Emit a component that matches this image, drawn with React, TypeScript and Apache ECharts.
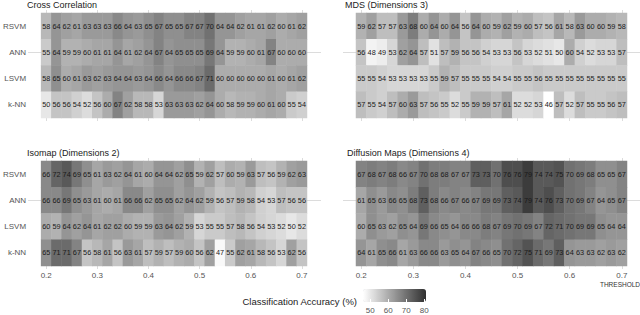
import React, { useEffect, useRef } from "react";
import * as echarts from "echarts";

const thresholds = [
  "0.20", "0.22", "0.24", "0.26", "0.28", "0.30", "0.32", "0.34", "0.36", "0.38",
  "0.40", "0.42", "0.44", "0.46", "0.48", "0.50", "0.52", "0.54", "0.56", "0.58",
  "0.60", "0.62", "0.64", "0.66", "0.68", "0.70",
];
const methods = ["RSVM", "ANN", "LSVM", "k-NN"];
const panelTitles = ["Cross Correlation", "MDS (Dimensions 3)", "Isomap (Dimensions 2)", "Diffusion Maps (Dimensions 4)"];
const legendTicks = [50, 60, 70, 80];

const ccRSVM = [58, 64, 62, 61, 63, 63, 63, 66, 64, 63, 65, 67, 65, 65, 67, 67, 70, 64, 64, 62, 61, 61, 62, 60, 61, 62];
const ccANN = [55, 64, 59, 59, 60, 61, 61, 64, 61, 62, 64, 67, 64, 65, 65, 65, 69, 64, 59, 59, 60, 61, 67, 60, 60, 60];
const ccLSVM = [58, 65, 60, 61, 63, 62, 63, 64, 64, 63, 64, 66, 64, 66, 66, 67, 71, 60, 60, 60, 60, 60, 61, 60, 61, 62];
const ccKNN = [50, 56, 56, 54, 52, 56, 60, 67, 62, 58, 58, 53, 63, 63, 63, 62, 64, 60, 58, 59, 59, 60, 61, 60, 55, 54];

const mdsRSVM = [59, 62, 57, 57, 63, 68, 60, 64, 60, 64, 56, 64, 60, 59, 62, 59, 60, 57, 56, 61, 58, 63, 60, 60, 59, 58];
const mdsANN = [56, 48, 49, 53, 62, 64, 57, 51, 57, 59, 56, 56, 54, 53, 53, 56, 53, 52, 51, 50, 60, 54, 52, 53, 53, 57];
const mdsLSVM = [55, 55, 54, 53, 53, 53, 53, 55, 59, 57, 55, 55, 55, 54, 54, 55, 55, 56, 55, 55, 55, 55, 55, 55, 55, 55];
const mdsKNN = [57, 55, 54, 57, 60, 63, 57, 56, 55, 52, 55, 59, 59, 57, 61, 52, 52, 53, 46, 57, 52, 57, 55, 55, 56, 57];

const isoRSVM = [66, 72, 74, 69, 65, 61, 63, 62, 64, 61, 60, 64, 64, 62, 65, 59, 62, 57, 60, 59, 63, 57, 56, 59, 62, 63];
const isoANN = [66, 66, 69, 65, 63, 61, 60, 61, 66, 66, 62, 65, 65, 62, 64, 62, 59, 56, 57, 59, 58, 54, 53, 57, 56, 56];
const isoLSVM = [60, 59, 64, 62, 64, 61, 62, 62, 60, 59, 59, 63, 64, 62, 59, 53, 55, 55, 57, 58, 56, 54, 53, 52, 50, 52];
const isoKNN = [65, 71, 71, 67, 56, 58, 61, 56, 63, 61, 57, 59, 57, 59, 60, 56, 62, 47, 55, 62, 61, 58, 56, 53, 62, 56];

const dmRSVM = [67, 68, 67, 68, 66, 67, 70, 68, 68, 67, 67, 73, 73, 70, 76, 76, 79, 74, 74, 75, 70, 69, 68, 65, 65, 67];
const dmANN = [61, 65, 63, 66, 65, 68, 73, 68, 66, 67, 66, 67, 69, 69, 73, 74, 79, 74, 76, 73, 70, 69, 67, 64, 65, 67];
const dmLSVM = [60, 65, 63, 62, 65, 64, 69, 66, 65, 64, 66, 66, 68, 67, 69, 70, 69, 67, 72, 71, 70, 69, 69, 65, 64, 64];
const dmKNN = [64, 61, 65, 66, 61, 63, 66, 66, 63, 65, 64, 67, 66, 65, 70, 72, 75, 71, 69, 73, 64, 63, 63, 62, 63, 62];

const panels = [
  [ccRSVM, ccANN, ccLSVM, ccKNN],
  [mdsRSVM, mdsANN, mdsLSVM, mdsKNN],
  [isoRSVM, isoANN, isoLSVM, isoKNN],
  [dmRSVM, dmANN, dmLSVM, dmKNN],
];

const FONT = "Liberation Sans, Arial, sans-serif";

export default function App() {
  const ref = useRef<HTMLDivElement>(null);
  useEffect(() => {
    if (!ref.current) return;
    const chart = echarts.init(ref.current, null, { renderer: "svg" });
    const gridPos = [
      { left: 36, top: 13 },
      { left: 356, top: 13 },
      { left: 36, top: 161 },
      { left: 356, top: 161 },
    ];
    const grids: any[] = gridPos.map((g) => ({ left: g.left, top: g.top, width: 271, height: 105 }));
    grids.push({ left: 363, top: 289, width: 63, height: 13 });

    const xAxes: any[] = [];
    const yAxes: any[] = [];
    const tickInterval = (i: number) => i % 5 === 0;
    const gridColor = "#dcdcdc";
    for (let p = 0; p < 4; p++) {
      const bottom = p >= 2;
      const leftLabels = p % 2 === 0;
      xAxes.push({
        type: "category",
        gridIndex: p,
        position: "bottom",
        data: thresholds,
        axisLine: { show: false },
        axisTick: { show: true, alignWithLabel: true, interval: tickInterval, length: 3, lineStyle: { color: gridColor } },
        axisLabel: {
          show: bottom,
          interval: tickInterval,
          formatter: (v: string) => String(Number(v)),
          fontSize: 8,
          color: "#555",
          fontFamily: FONT,
          margin: 5,
        },
        splitLine: { show: false },
      });
      xAxes.push({
        type: "category",
        gridIndex: p,
        position: "top",
        data: thresholds,
        axisLine: { show: false },
        axisTick: { show: true, alignWithLabel: true, interval: tickInterval, length: 3, lineStyle: { color: gridColor } },
        axisLabel: { show: false },
        splitLine: { show: false },
      });
      yAxes.push({
        type: "category",
        gridIndex: p,
        position: "left",
        inverse: true,
        data: methods,
        axisLine: { show: false },
        axisTick: { show: true, alignWithLabel: true, interval: (i: number) => i === 1, length: 13, lineStyle: { color: gridColor } },
        axisLabel: { show: leftLabels, fontSize: 8, color: "#555", fontFamily: FONT, margin: 15 },
        splitLine: { show: false },
      });
      yAxes.push({
        type: "category",
        gridIndex: p,
        position: "right",
        inverse: true,
        data: methods,
        axisLine: { show: false },
        axisTick: { show: true, alignWithLabel: true, interval: (i: number) => i === 1, length: 14, lineStyle: { color: gridColor } },
        axisLabel: { show: false },
        splitLine: { show: false },
      });
    }
    xAxes.push({
      type: "value",
      gridIndex: 4,
      min: 46,
      max: 81,
      z: 10,
      axisLine: { show: false },
      splitLine: { show: false },
      axisTick: { show: true, inside: true, length: 3, customValues: legendTicks, lineStyle: { color: "#fff" } },
      axisLabel: { customValues: legendTicks, fontSize: 8, color: "#555", fontFamily: FONT, margin: 4 },
    });
    yAxes.push({ type: "value", gridIndex: 4, show: false, min: 0, max: 1 });

    const series: any[] = panels.map((rows, p) => {
      const data: any[] = [];
      rows.forEach((vals, yi) => {
        vals.forEach((v, xi) => data.push([xi, yi, v]));
      });
      return {
        type: "heatmap",
        xAxisIndex: p * 2,
        yAxisIndex: p * 2,
        data,
        label: {
          show: true,
          fontSize: 7.3,
          color: "#1a1a1a",
          fontFamily: FONT,
          textBorderWidth: 0,
          textBorderColor: "transparent",
          textShadowBlur: 0,
          formatter: (d: any) => String(d.value[2]),
        },
        emphasis: { disabled: true },
        itemStyle: { borderWidth: 0 },
      };
    });

    const titlePos = [
      { x: 27, y: 5 },
      { x: 345, y: 5 },
      { x: 27, y: 153 },
      { x: 347, y: 153 },
    ];
    const graphic: any[] = panelTitles.map((t, i) => ({
      type: "text",
      x: titlePos[i].x,
      y: titlePos[i].y,
      style: { text: t, fontSize: 9, fill: "#222", fontFamily: FONT, verticalAlign: "middle", align: "left" },
    }));
    graphic.push({
      type: "text",
      x: 620,
      y: 284,
      style: { text: "THRESHOLD", fontSize: 6.5, fill: "#333", fontFamily: FONT, verticalAlign: "middle", align: "center" },
    });
    graphic.push({
      type: "text",
      x: 357,
      y: 301,
      style: { text: "Classification Accuracy (%)", fontSize: 9.5, fill: "#222", fontFamily: FONT, verticalAlign: "middle", align: "right" },
    });

    chart.setOption({
      animation: false,
      backgroundColor: "#ffffff",
      grid: grids,
      xAxis: xAxes,
      yAxis: yAxes,
      visualMap: {
        type: "continuous",
        min: 46,
        max: 81,
        seriesIndex: [0, 1, 2, 3],
        orient: "horizontal",
        left: 363,
        top: 289,
        itemWidth: 13,
        itemHeight: 63,
        padding: 0,
        calculable: false,
        text: null,
        showLabel: false,
        inRange: { color: ["#ffffff", "#303030"] },
      },
      series,
      graphic,
    });
    return () => chart.dispose();
  }, []);
  return (
    <div
      ref={ref}
      style={{ position: "fixed", left: 0, top: 0, width: 640, height: 315, background: "#fff" }}
    />
  );
}
